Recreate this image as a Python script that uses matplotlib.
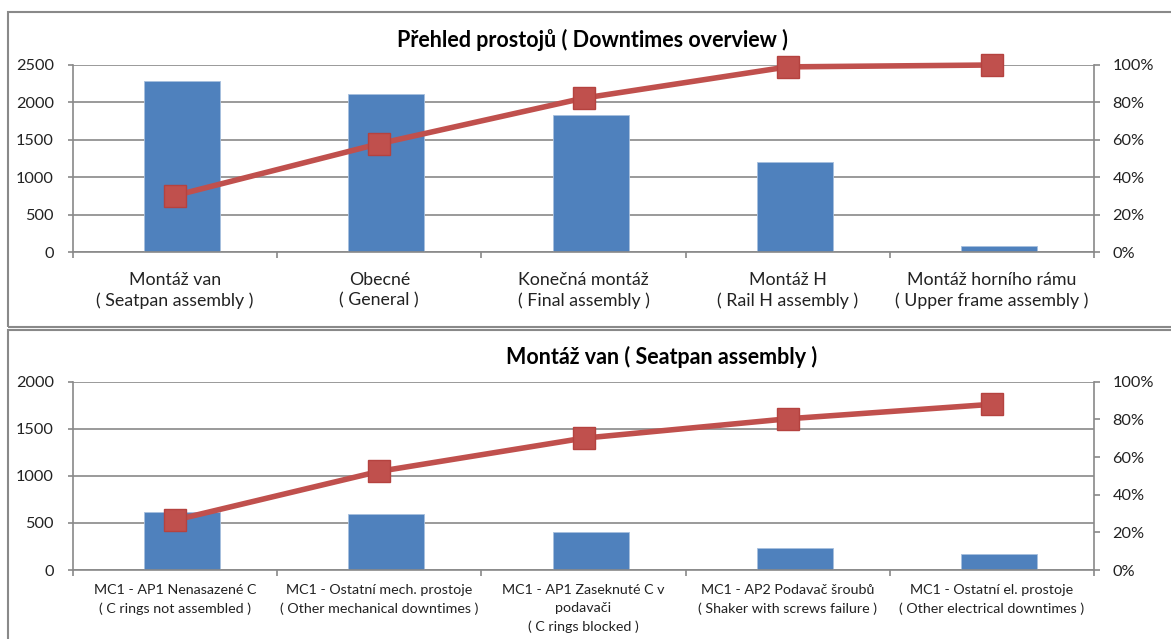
import matplotlib
matplotlib.use("Agg")
import matplotlib.pyplot as plt
import numpy as np
from matplotlib.patches import Rectangle
from matplotlib.ticker import PercentFormatter

plt.rcParams['font.family'] = ['Lato', 'DejaVu Sans']

# horní graf - přehled prostojů
top_categories = ["Montáž van\n( Seatpan assembly )", "Obecné\n( General )",
                  "Konečná montáž\n( Final assembly )", "Montáž H\n( Rail H assembly )",
                  "Montáž horního rámu\n( Upper frame assembly )"]
top_values = [2290, 2110, 1830, 1200, 90]
top_cum_pct = [30.3, 58.0, 82.3, 99.0, 100.0]

# dolní graf - montáž van
bot_categories = ["MC1 - AP1 Nenasazené C\n( C rings not assembled )",
                  "MC1 - Ostatní mech. prostoje\n( Other mechanical downtimes )",
                  "MC1 - AP1 Zaseknuté C v\npodavači\n( C rings blocked )",
                  "MC1 - AP2 Podavač šroubů\n( Shaker with screws failure )",
                  "MC1 - Ostatní el. prostoje\n( Other electrical downtimes )"]
bot_values = [616, 595, 400, 236, 173]
bot_cum_pct = [26.5, 52.4, 70.0, 80.3, 88.0]

BAR = "#4F81BD"
LINE = "#C0504D"
GRID = "#898989"

W, H = 1171, 639
fig = plt.figure(figsize=(W / 100, H / 100), dpi=100)
fig.patch.set_facecolor("white")

# ramečky panelů
fig.patches.append(Rectangle((7.5 / W, 1 - 327 / H), 1170 / W, 315 / H, transform=fig.transFigure,
                             fill=False, edgecolor=GRID, lw=1.5))
fig.patches.append(Rectangle((7.5 / W, 1 - 660 / H), 1170 / W, 330 / H, transform=fig.transFigure,
                             fill=False, edgecolor=GRID, lw=1.5))


def pareto(rect, cats, vals, pct, ymax, title, title_xy, lab_size, lab_pad, lab_ls):
    ax = fig.add_axes(rect)
    n = len(cats)
    x = np.arange(n)
    # sloupce jsou v Excelu mírně posunuté doprava
    ax.bar(x + 0.035, vals, width=0.372, color=BAR, edgecolor="#A7BFDE", lw=0.6, zorder=2)
    ax.set_xlim(-0.5, n - 0.5)
    ax.set_ylim(0, ymax)
    ax.set_yticks(np.arange(0, ymax + 1, 500))
    ax.yaxis.grid(True, color=GRID, lw=1.2)
    ax.set_axisbelow(True)
    ax.set_xticks(np.arange(n + 1) - 0.5)
    ax.set_xticklabels([])
    ax.set_xticks(x, minor=True)
    ax.set_xticklabels(cats, minor=True, fontsize=lab_size, color="#222222", linespacing=lab_ls)
    ax.tick_params(axis="x", which="minor", length=0, pad=lab_pad)
    ax.tick_params(axis="x", which="major", length=4.5, width=1.2, color=GRID)
    ax.tick_params(axis="y", length=3.8, width=1.2, color=GRID, labelsize=11.7, pad=10,
                   labelcolor="#222222")
    for s in ["top", "right"]:
        ax.spines[s].set_visible(False)
    for s in ["left", "bottom"]:
        ax.spines[s].set_color(GRID)
        ax.spines[s].set_linewidth(1.2)

    ax2 = ax.twinx()
    ax2.plot(x, np.array(pct) / 100, color=LINE, lw=4, marker="s", ms=15.5,
             mfc=LINE, mec="#B5423F", mew=1, zorder=3, solid_joinstyle="round", clip_on=False)
    ax2.set_ylim(0, 1)
    ax2.set_yticks(np.arange(0, 1.01, 0.2))
    ax2.yaxis.set_major_formatter(PercentFormatter(1.0, decimals=0))
    ax2.tick_params(axis="y", length=4.3, width=1.2, color=GRID, labelsize=11.7, pad=9,
                    labelcolor="#222222")
    for s in ["top", "left", "bottom"]:
        ax2.spines[s].set_visible(False)
    ax2.spines["right"].set_color(GRID)
    ax2.spines["right"].set_linewidth(1.2)

    fig.text(title_xy[0], title_xy[1], title, ha="center", va="center",
             fontsize=15.5, fontweight="bold", color="black")


pareto([73 / W, 1 - 252.3 / H, 1021 / W, 187.3 / H], top_categories, top_values, top_cum_pct,
       2500, "Přehled prostojů ( Downtimes overview )", (592 / W, 1 - 39.5 / H), 12.8, 14, 1.35)
pareto([73 / W, 1 - 570 / H, 1021 / W, 188.3 / H], bot_categories, bot_values, bot_cum_pct,
       2000, "Montáž van ( Seatpan assembly )", (662 / W, 1 - 356.5 / H), 10.3, 10, 1.6)

fig.savefig("out.png", dpi=100)
